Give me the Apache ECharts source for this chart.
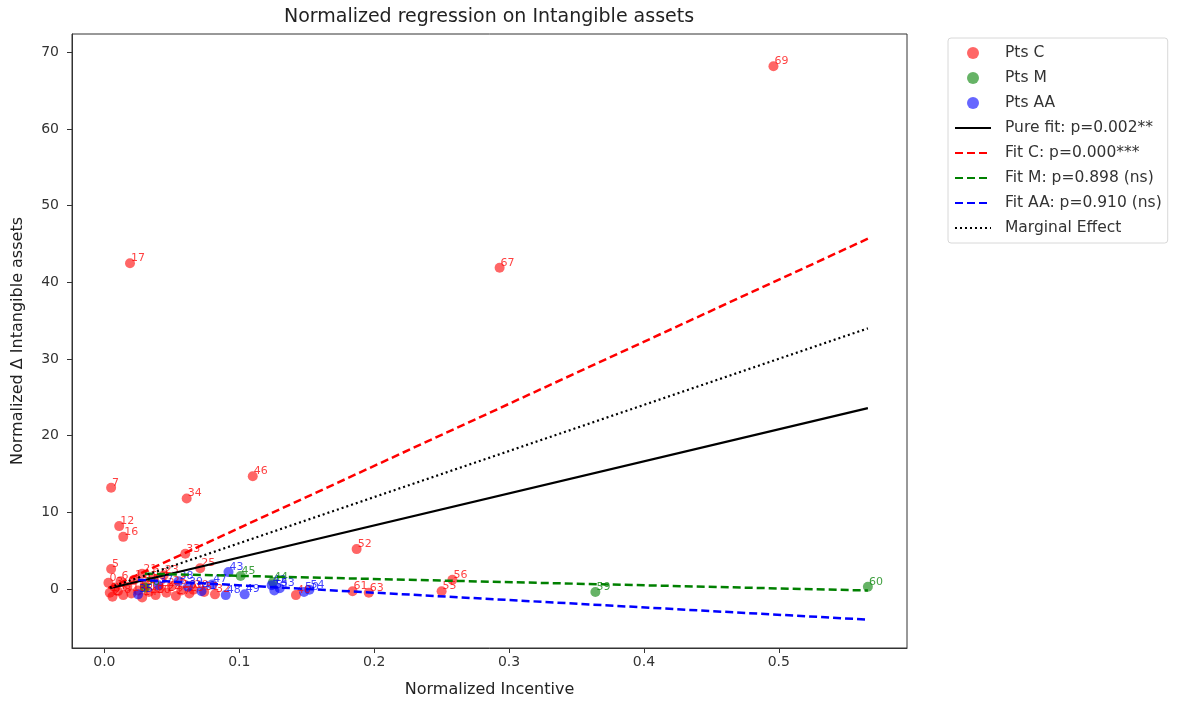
<!DOCTYPE html>
<html>
<head>
<meta charset="utf-8">
<script src="https://cdn.jsdelivr.net/npm/echarts@6/dist/echarts.min.js"></script>
<style>
  html, body { margin: 0; padding: 0; background: #fff; }
  #chart { width: 1178px; height: 704px; }
</style>
</head>
<body>
<div id="chart"></div>
<script>
// tick labels
var xTicks = [0.0, 0.1, 0.2, 0.3, 0.4, 0.5]
var yTicks = [0, 10, 20, 30, 40, 50, 60, 70]

// Pts C (red)
var cIds = [69, 17, 67, 46, 7, 34, 12, 16, 52, 33, 5, 21, 56, 55, 61, 63, 40, 25,
  0, 1, 2, 3, 4, 6, 8, 9, 10, 11, 13, 14, 15, 18, 19, 20, 22, 23, 24, 26, 27, 28, 29, 30, 31, 32]
var cX = [0.496, 0.019, 0.293, 0.110, 0.005, 0.061, 0.011, 0.014, 0.187, 0.060, 0.005, 0.028, 0.258, 0.250, 0.184, 0.196, 0.142, 0.071,
  0.003, 0.004, 0.006, 0.008, 0.010, 0.012, 0.014, 0.017, 0.020, 0.022, 0.025, 0.028, 0.030, 0.033, 0.036, 0.038, 0.041, 0.044, 0.046, 0.050, 0.053, 0.057, 0.063, 0.066, 0.074, 0.082]
var cY = [68.2, 42.5, 41.9, 14.7, 13.2, 11.8, 8.2, 6.8, 5.2, 4.6, 2.6, 2.0, 1.2, -0.3, -0.3, -0.5, -0.8, 2.7,
  0.8, -0.5, -1.0, 0.2, -0.3, 1.0, -0.8, 0.3, -0.6, 1.2, -0.2, -1.1, 0.6, -0.4, 1.4, -0.8, 0.1, 1.8, -0.5, 0.4, -0.9, -0.2, -0.6, -0.1, -0.4, -0.7]

// Pts M (green)
var mIds = [45, 59, 60, 36, 44]
var mX = [0.101, 0.364, 0.566, 0.030, 0.125]
var mY = [1.7, -0.4, 0.3, 0.2, 0.9]

// Pts AA (blue)
var aIds = [43, 42, 50, 35, 37, 38, 39, 41, 47, 48, 49, 51, 53, 54]
var aX = [0.092, 0.124, 0.148, 0.025, 0.040, 0.055, 0.062, 0.072, 0.080, 0.090, 0.104, 0.126, 0.130, 0.152]
var aY = [2.2, 0.5, -0.4, -0.7, 0.5, 1.0, 0.3, -0.3, 0.6, -0.8, -0.7, -0.2, 0.1, -0.1]

// fitted lines (end points)
var pureX = [0.004, 0.566], pureY = [0.1, 23.6]
var fitCX = [0.003, 0.566], fitCY = [0.1, 45.7]
var fitMX = [0.030, 0.566], fitMY = [2.0, -0.2]
var fitAAX = [0.025, 0.566], fitAAY = [1.2, -4.0]
var margX = [0.004, 0.566], margY = [0.2, 34.0]

var FONT = 'DejaVu Sans'

function pts (xs, ys, ids) {
  return xs.map(function (x, i) { return [x, ys[i], ids[i]] })
}
function seg (xs, ys) {
  return xs.map(function (x, i) { return [x, ys[i]] })
}

function scatterSeries (name, color, data) {
  return {
    name: name,
    type: 'scatter',
    symbolSize: 10,
    itemStyle: { color: color, opacity: 0.6 },
    label: {
      show: true,
      position: 'right',
      distance: 0,
      offset: [-4, -5],
      color: color,
      opacity: 0.75,
      fontFamily: FONT,
      fontSize: 11,
      formatter: function (p) { return p.value[2] }
    },
    data: data
  }
}

function lineSeries (name, color, type, width, data) {
  return {
    name: name,
    type: 'line',
    symbol: 'none',
    lineStyle: { color: color, type: type, width: width },
    itemStyle: { color: color },
    data: data,
    z: 3
  }
}

function lineLegend (name) {
  return { name: name, itemStyle: { opacity: 0 } }
}

var myChart = echarts.init(document.getElementById('chart'))

var option = {
  animation: false,
  backgroundColor: '#fff',
  graphic: [{
    type: 'text',
    x: 489,
    y: 17,
    style: {
      text: 'Normalized regression on Intangible assets',
      font: '19px "DejaVu Sans"',
      fill: '#222',
      textAlign: 'center',
      textVerticalAlign: 'middle'
    }
  }],
  grid: {
    left: 72,
    top: 34,
    width: 835,
    height: 614,
    show: true,
    borderColor: '#333',
    borderWidth: 1
  },
  legend: {
    orient: 'vertical',
    left: 948,
    top: 38,
    padding: [7, 6, 7, 6],
    itemWidth: 36,
    itemHeight: 12,
    itemGap: 9,
    borderColor: '#d8d8d8',
    borderWidth: 1,
    borderRadius: 3,
    textStyle: { fontFamily: FONT, fontSize: 15.5, lineHeight: 16, color: '#333', padding: [0, 0, 0, 9] },
    data: [
      { name: 'Pts C', icon: 'circle' },
      { name: 'Pts M', icon: 'circle' },
      { name: 'Pts AA', icon: 'circle' },
      lineLegend('Pure fit: p=0.002**'),
      lineLegend('Fit C: p=0.000***'),
      lineLegend('Fit M: p=0.898 (ns)'),
      lineLegend('Fit AA: p=0.910 (ns)'),
      lineLegend('Marginal Effect')
    ]
  },
  xAxis: {
    type: 'value',
    min: -0.024,
    max: 0.595,
    name: 'Normalized Incentive',
    nameLocation: 'middle',
    nameGap: 34,
    nameTextStyle: { fontFamily: FONT, fontSize: 16, color: '#222' },
    axisLine: { onZero: false, lineStyle: { color: '#333' } },
    axisTick: { show: true, length: 5, lineStyle: { color: '#333' }, customValues: xTicks },
    axisLabel: {
      fontFamily: FONT, fontSize: 14, color: '#333', margin: 7,
      customValues: xTicks,
      formatter: function (v) { return v.toFixed(1) }
    },
    splitLine: { show: false }
  },
  yAxis: {
    type: 'value',
    min: -7.7,
    max: 72.4,
    name: 'Normalized \u0394 Intangible assets',
    nameLocation: 'middle',
    nameGap: 46,
    nameTextStyle: { fontFamily: FONT, fontSize: 16, color: '#222' },
    axisLine: { show: true, onZero: false, lineStyle: { color: '#333' } },
    axisTick: { show: true, length: 5, lineStyle: { color: '#333' }, customValues: yTicks },
    axisLabel: {
      fontFamily: FONT, fontSize: 14, color: '#333', margin: 13,
      customValues: yTicks
    },
    splitLine: { show: false }
  },
  series: [
    scatterSeries('Pts C', '#ff0000', pts(cX, cY, cIds)),
    scatterSeries('Pts M', '#008000', pts(mX, mY, mIds)),
    scatterSeries('Pts AA', '#0000ff', pts(aX, aY, aIds)),
    lineSeries('Pure fit: p=0.002**', '#000000', 'solid', 2.2, seg(pureX, pureY)),
    lineSeries('Fit C: p=0.000***', '#ff0000', [8, 4], 2.5, seg(fitCX, fitCY)),
    lineSeries('Fit M: p=0.898 (ns)', '#008000', [8, 4], 2.5, seg(fitMX, fitMY)),
    lineSeries('Fit AA: p=0.910 (ns)', '#0000ff', [8, 4], 2.5, seg(fitAAX, fitAAY)),
    lineSeries('Marginal Effect', '#000000', [2, 3], 2.2, seg(margX, margY))
  ]
}

myChart.setOption(option)
window.onresize = myChart.resize
</script>
</body>
</html>
